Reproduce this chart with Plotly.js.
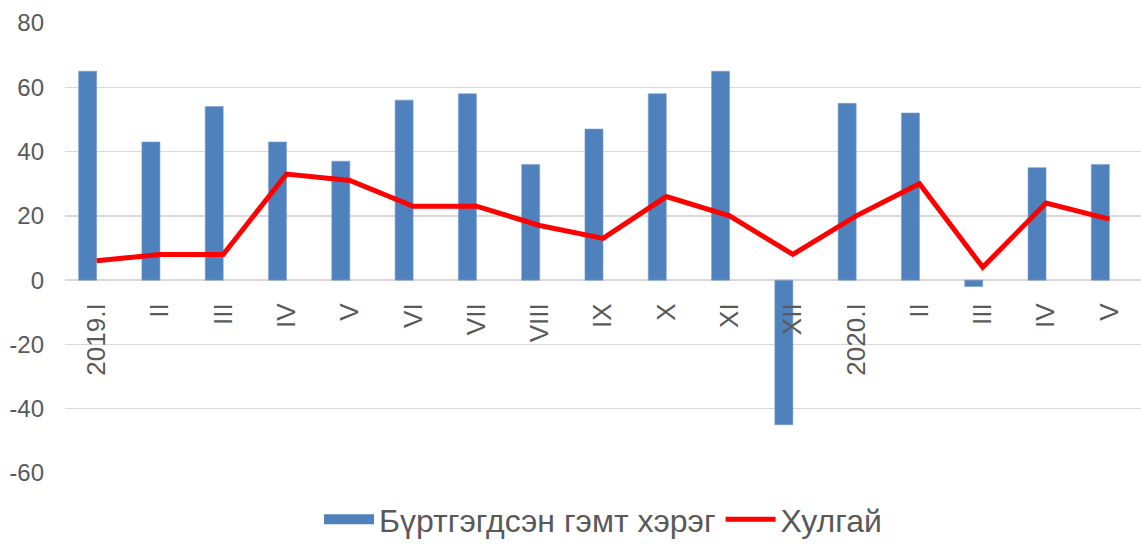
<!DOCTYPE html>
<html>
<head>
<meta charset="utf-8">
<script src="https://cdn.plot.ly/plotly-3.0.1.min.js"></script>
<style>html,body{margin:0;padding:0;background:#fff;}#chart{width:1141px;height:544px;}</style>
</head>
<body>
<div id="chart"></div>
<script>
const categories = ["2019.I","II","III","IV","V","VI","VII","VIII","IX","X","XI","XII","2020.I","II","III","IV","V"];
const registeredCrimes = [65, 43, 54, 43, 37, 56, 58, 36, 47, 58, 65, -45, 55, 52, -2, 35, 36];
const theft = [6, 8, 8, 33, 31, 23, 23, 17, 13, 26, 20, 8, 20, 30, 4, 24, 19];
const seriesNames = ["Бүртгэгдсэн гэмт хэрэг", "Хулгай"];
const yTicks = [-60, -40, -20, 0, 20, 40, 60, 80];

const idx = categories.map((_, i) => i);
const barColor = '#4F81BD';

const traces = [
  {
    type: 'bar',
    name: seriesNames[0],
    x: idx,
    y: registeredCrimes,
    width: 0.285,
    offset: -0.285,
    marker: {color: barColor, line: {color: '#7EA0D0', width: 0.6}},
    showlegend: false,
    hoverinfo: 'y'
  },
  {
    // legend entry for the bar series (wide rectangle swatch like the original)
    type: 'scatter',
    mode: 'lines',
    name: seriesNames[0],
    x: [null],
    y: [null],
    line: {color: barColor, width: 17},
    hoverinfo: 'skip'
  },
  {
    type: 'scatter',
    mode: 'lines',
    name: seriesNames[1],
    x: idx,
    y: theft,
    line: {color: '#FF0000', width: 5},
    hoverinfo: 'y'
  }
];

const layout = {
  width: 1141,
  height: 544,
  margin: {l: 65, r: 0, t: 23, b: 71},
  paper_bgcolor: '#ffffff',
  plot_bgcolor: '#ffffff',
  font: {family: '"Liberation Sans", Arial, sans-serif', color: '#595959'},
  showlegend: true,
  legend: {
    orientation: 'h',
    x: 0.5, xanchor: 'center',
    yref: 'container',
    y: 0.045, yanchor: 'middle',
    font: {size: 32, color: '#595959'},
    traceorder: 'normal',
    itemwidth: 50
  },
  xaxis: {
    range: [-0.5, 16.5],
    tickmode: 'array',
    tickvals: idx,
    ticktext: categories,
    tickangle: -90,
    tickfont: {size: 26, color: '#595959'},
    showgrid: false,
    zeroline: false,
    showline: false,
    anchor: 'free',
    position: 60 / 140,
    ticks: '',
    ticklabelstandoff: 17,
    fixedrange: true
  },
  yaxis: {
    range: [-60, 80],
    tickmode: 'array',
    tickvals: yTicks,
    ticktext: yTicks.map(String),
    tickfont: {size: 24, color: '#595959'},
    showgrid: true,
    gridcolor: '#D9D9D9',
    gridwidth: 1.5,
    zeroline: true,
    zerolinecolor: '#D9D9D9',
    zerolinewidth: 1.5,
    showline: false,
    ticks: '',
    ticklabelstandoff: 20,
    fixedrange: true
  },
  bargap: 0
};

Plotly.newPlot('chart', traces, layout, {staticPlot: true, displayModeBar: false});
</script>
</body>
</html>
